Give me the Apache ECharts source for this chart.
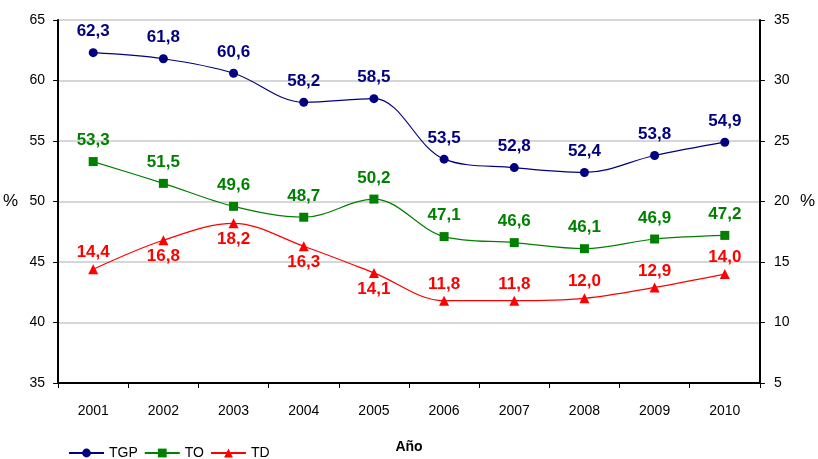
<!DOCTYPE html>
<html><head><meta charset="utf-8">
<script src="https://cdn.jsdelivr.net/npm/echarts@6/dist/echarts.min.js"></script>
<style>html,body{margin:0;padding:0;background:#fff}#c{width:818px;height:459px}</style>
</head><body><div id="c"></div>
<script>
const years = ['2001','2002','2003','2004','2005','2006','2007','2008','2009','2010'];
const tgp = [62.3, 61.8, 60.6, 58.2, 58.5, 53.5, 52.8, 52.4, 53.8, 54.9];
const to = [53.3, 51.5, 49.6, 48.7, 50.2, 47.1, 46.6, 46.1, 46.9, 47.2];
const td = [14.4, 16.8, 18.2, 16.3, 14.1, 11.8, 11.8, 12.0, 12.9, 14.0];
const tdBelow = [false, true, true, true, true, false, false, false, false, false];

const fmt = p => p.value.toFixed(1).replace('.', ',');
const FONT = 'Liberation Sans';
const chart = echarts.init(document.getElementById('c'));
const lbl = (color, d) => ({show: true, position: 'top', distance: d, color: color, fontFamily: FONT, fontWeight: 'bold', fontSize: 17, formatter: fmt});
chart.setOption({
  animation: false,
  textStyle: {fontFamily: FONT},
  grid: {left: 58, right: 52, top: 20, bottom: 75},
  legend: {
    left: 63, bottom: -6, itemWidth: 35, itemHeight: 11, itemGap: 6,
    textStyle: {fontFamily: FONT, fontSize: 14, color: '#000'},
    data: ['TGP', 'TO', 'TD']
  },
  xAxis: {
    type: 'category', data: years, boundaryGap: true,
    name: 'Año', nameLocation: 'middle', nameGap: 57,
    nameTextStyle: {fontFamily: FONT, fontWeight: 'bold', fontSize: 14, color: '#000'},
    axisLine: {lineStyle: {color: '#000', width: 2}},
    axisTick: {show: true, length: 5, lineStyle: {color: '#000'}},
    axisLabel: {color: '#000', fontSize: 14, margin: 21, fontFamily: FONT}
  },
  yAxis: [{
    type: 'value', min: 35, max: 65, interval: 5, position: 'left',
    name: '%', nameLocation: 'middle', nameRotate: 0, nameGap: 40,
    nameTextStyle: {fontSize: 17, color: '#000', fontFamily: FONT},
    axisLine: {show: true, lineStyle: {color: '#000', width: 2}},
    axisTick: {show: true, length: 5, lineStyle: {color: '#000'}},
    axisLabel: {color: '#000', fontSize: 14, margin: 13, fontFamily: FONT},
    splitLine: {show: true, lineStyle: {color: '#c8c8c8', width: 1.5}}
  }, {
    type: 'value', min: 5, max: 35, interval: 5, position: 'right',
    name: '%', nameLocation: 'middle', nameRotate: 0, nameGap: 40,
    nameTextStyle: {fontSize: 17, color: '#000', fontFamily: FONT},
    axisLine: {show: true, lineStyle: {color: '#000', width: 2}},
    axisTick: {show: true, length: 5, lineStyle: {color: '#000'}},
    axisLabel: {color: '#000', fontSize: 14, margin: 14, fontFamily: FONT},
    splitLine: {show: false}
  }],
  series: [{
    name: 'TGP', type: 'line', data: tgp, yAxisIndex: 0, smooth: 0.35,
    symbol: 'circle', symbolSize: 9, color: '#000080',
    lineStyle: {width: 1.2, color: '#000080'},
    label: lbl('#000080', 8)
  }, {
    name: 'TO', type: 'line', data: to, yAxisIndex: 0, smooth: 0.35,
    symbol: 'rect', symbolSize: 9, color: '#008000',
    lineStyle: {width: 1.2, color: '#008000'},
    label: lbl('#008000', 8)
  }, {
    name: 'TD', type: 'line', yAxisIndex: 1, smooth: 0.35,
    data: td.map((v, i) => ({value: v, label: tdBelow[i] ? {position: 'bottom', distance: 3} : {}})),
    symbol: 'triangle', symbolSize: 10, color: '#ff0000',
    lineStyle: {width: 1.2, color: '#ff0000'},
    label: lbl('#ff0000', 3)
  }]
});
</script></body></html>
